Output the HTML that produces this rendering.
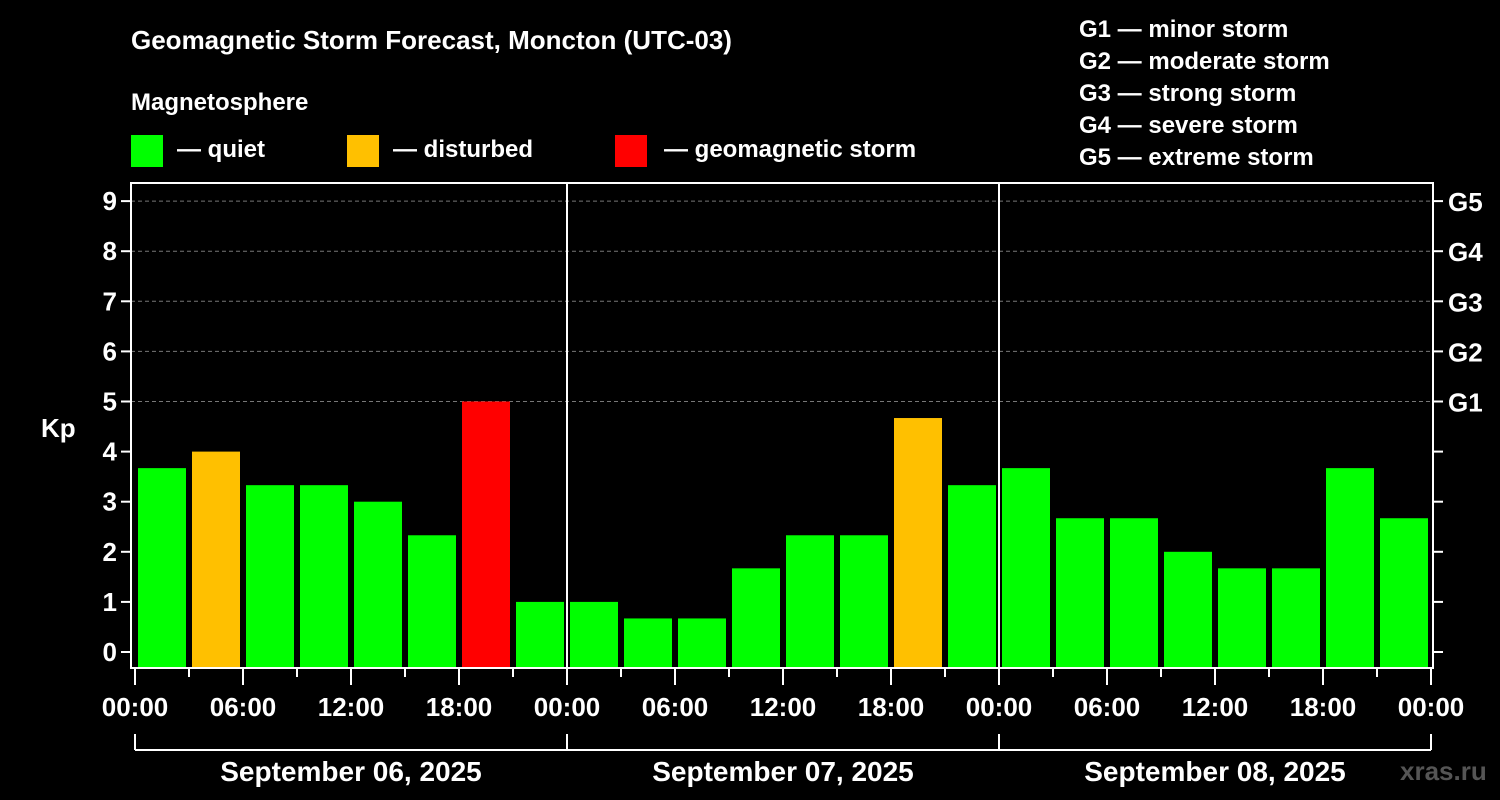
<!DOCTYPE html>
<html><head><meta charset="utf-8"><style>
body{margin:0;background:#000;width:1500px;height:800px;overflow:hidden}
svg{display:block;font-family:"Liberation Sans",Arial,sans-serif;font-weight:bold}
</style></head><body>
<svg id="c" width="1500" height="800">
<rect x="0" y="0" width="1500" height="800" fill="#000"/>
<text x="131" y="49" fill="#fff" font-size="26">Geomagnetic Storm Forecast, Moncton (UTC-03)</text>
<text x="131" y="110" fill="#fff" font-size="24">Magnetosphere</text>
<g><rect x="131" y="135" width="32" height="32" fill="#00ff00"/><text x="177" y="157" fill="#fff" font-size="24">— quiet</text></g>
<g><rect x="347" y="135" width="32" height="32" fill="#ffc000"/><text x="393" y="157" fill="#fff" font-size="24">— disturbed</text></g>
<g><rect x="615" y="135" width="32" height="32" fill="#ff0000"/><text x="664" y="157" fill="#fff" font-size="24">— geomagnetic storm</text></g>
<g fill="#fff" font-size="24">
<text x="1079" y="37">G1 — minor storm</text>
<text x="1079" y="69">G2 — moderate storm</text>
<text x="1079" y="101">G3 — strong storm</text>
<text x="1079" y="133">G4 — severe storm</text>
<text x="1079" y="165">G5 — extreme storm</text>
</g>
<text x="41" y="437" fill="#fff" font-size="26">Kp</text>
<text x="1400" y="780" fill="#555" font-size="26">xras.ru</text>
<g id="plot"></g>
</svg>
<script>
const kpValues=[3.67,4,3.33,3.33,3,2.33,5,1, 1,0.67,0.67,1.67,2.33,2.33,4.67,3.33, 3.67,2.67,2.67,2,1.67,1.67,3.67,2.67];
const dayLabels=["September 06, 2025","September 07, 2025","September 08, 2025"];
const hourLabels=["00:00","06:00","12:00","18:00"];
const yTicks=[0,1,2,3,4,5,6,7,8,9];
const gLabels=["G1","G2","G3","G4","G5"];
const NS="http://www.w3.org/2000/svg";
const g=document.getElementById('plot');
const X0=135,DAY=432,Y0=652,UNIT=50.1,BOT=668,TOP=183,L=131,R=1433;
const xs=h=>X0+h*DAY/24, ys=v=>Y0-v*UNIT;
function mk(t,a){const e=document.createElementNS(NS,t);for(const k in a)e.setAttribute(k,a[k]);g.appendChild(e);return e;}
// grid
for(let k=5;k<=9;k++){const e=mk('line',{x1:L,x2:R,y1:ys(k),y2:ys(k),stroke:'#777','stroke-dasharray':'4,3','stroke-width':1});

}
// bars
kpValues.forEach((v,i)=>{const c=v>=5?'#ff0000':(v>=4?'#ffc000':'#00ff00');
const e=mk('rect',{x:xs(i*3)+3,y:ys(v),width:48,height:BOT-ys(v),fill:c});

});
// day separators
for(let d=1;d<dayLabels.length;d++){const e=mk('line',{x1:xs(d*24),x2:xs(d*24),y1:TOP,y2:BOT,stroke:'#fff','stroke-width':2});

}
// frame
const f=mk('rect',{x:L,y:TOP,width:R-L,height:BOT-TOP,fill:'none',stroke:'#fff','stroke-width':2});


// y ticks
yTicks.forEach(v=>{mk('line',{x1:L-10,x2:L,y1:ys(v),y2:ys(v),stroke:'#fff','stroke-width':2});
mk('line',{x1:R,x2:R+10,y1:ys(v),y2:ys(v),stroke:'#fff','stroke-width':2});
const t=mk('text',{x:L-14,y:ys(v)+9,fill:'#fff','font-size':26,'text-anchor':'end'});t.textContent=v;

});
gLabels.forEach((s,i)=>{const t=mk('text',{x:1448,y:ys(5+i)+10,fill:'#fff','font-size':26});t.textContent=s;

});
// x ticks
for(let h=0;h<=72;h+=3){const major=h%6==0;mk('line',{x1:xs(h),x2:xs(h),y1:BOT,y2:BOT+(major?17:9),stroke:'#fff','stroke-width':2});
if(major){const t=mk('text',{x:xs(h),y:716,fill:'#fff','font-size':26,'text-anchor':'middle'});t.textContent=hourLabels[(h/6)%4];

}}
// date bracket
mk('line',{x1:X0,x2:xs(72),y1:750,y2:750,stroke:'#fff','stroke-width':2});
for(let d=0;d<=dayLabels.length;d++)mk('line',{x1:xs(d*24),x2:xs(d*24),y1:734,y2:750,stroke:'#fff','stroke-width':2});
dayLabels.forEach((s,d)=>{const t=mk('text',{x:xs(d*24+12),y:781,fill:'#fff','font-size':28,'text-anchor':'middle'});t.textContent=s;

});
</script>
</body></html>
